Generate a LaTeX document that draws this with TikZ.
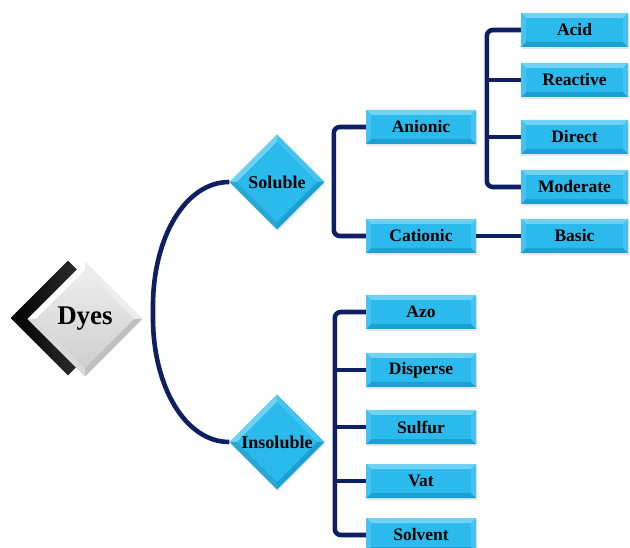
\documentclass[tikz,border=0pt]{standalone}
\usepackage{fontspec}
\setmainfont{Liberation Serif}
\usetikzlibrary{shapes.geometric,shadows}
\definecolor{cybase}{HTML}{2BBAEC}
\definecolor{cylight}{HTML}{6FD2F5}
\definecolor{cymid}{HTML}{45C3F0}
\definecolor{cydark}{HTML}{1C9FD2}
\definecolor{navy}{HTML}{0B1F62}
\tikzset{
  br/.style={draw=navy, line width=4.6pt, rounded corners=6pt},
  bevelbox/.style={rectangle, fill=cybase, minimum height=34pt, inner sep=0pt,
    font=\bfseries\fontsize{17.5}{20}\selectfont,
    drop shadow={opacity=0.2, shadow xshift=1pt, shadow yshift=-2pt},
    path picture={
      \fill[cylight] (path picture bounding box.north west) -- (path picture bounding box.north east)
        -- ([xshift=-5pt,yshift=-5pt]path picture bounding box.north east)
        -- ([xshift=5pt,yshift=-5pt]path picture bounding box.north west) -- cycle;
      \fill[cydark] (path picture bounding box.south west) -- (path picture bounding box.south east)
        -- ([xshift=-5pt,yshift=5pt]path picture bounding box.south east)
        -- ([xshift=5pt,yshift=5pt]path picture bounding box.south west) -- cycle;
      \fill[cymid] (path picture bounding box.north west) -- ([xshift=5pt,yshift=-5pt]path picture bounding box.north west)
        -- ([xshift=5pt,yshift=5pt]path picture bounding box.south west) -- (path picture bounding box.south west) -- cycle;
      \fill[cymid] (path picture bounding box.north east) -- ([xshift=-5pt,yshift=-5pt]path picture bounding box.north east)
        -- ([xshift=-5pt,yshift=5pt]path picture bounding box.south east) -- (path picture bounding box.south east) -- cycle;
    }},
  rbox/.style={bevelbox, minimum width=107pt},
  mbox/.style={bevelbox, minimum width=110pt},
  dia/.style={diamond, aspect=1, inner sep=0pt, minimum width=95pt, minimum height=95pt,
    fill=cybase, font=\bfseries\fontsize{18}{20}\selectfont,
    drop shadow={opacity=0.2, shadow xshift=1pt, shadow yshift=-2pt},
    path picture={
      \fill[cylight] (path picture bounding box.west) -- (path picture bounding box.north)
        -- ([yshift=-7pt]path picture bounding box.north) -- ([xshift=7pt]path picture bounding box.west) -- cycle;
      \fill[cymid] (path picture bounding box.north) -- (path picture bounding box.east)
        -- ([xshift=-7pt]path picture bounding box.east) -- ([yshift=-7pt]path picture bounding box.north) -- cycle;
      \fill[cydark] (path picture bounding box.east) -- (path picture bounding box.south)
        -- ([yshift=7pt]path picture bounding box.south) -- ([xshift=-7pt]path picture bounding box.east) -- cycle;
      \fill[cybase!90!black] (path picture bounding box.south) -- (path picture bounding box.west)
        -- ([xshift=7pt]path picture bounding box.west) -- ([yshift=7pt]path picture bounding box.south) -- cycle;
    }},
  graydia/.style={diamond, aspect=1, inner sep=0pt, minimum width=115pt, minimum height=115pt,
    top color=gray!12, bottom color=gray!40, font=\bfseries\fontsize{27}{30}\selectfont,
    path picture={
      \fill[white] (path picture bounding box.west) -- (path picture bounding box.north)
        -- ([yshift=-8pt]path picture bounding box.north) -- ([xshift=8pt]path picture bounding box.west) -- cycle;
      \fill[gray!15] (path picture bounding box.north) -- (path picture bounding box.east)
        -- ([xshift=-8pt]path picture bounding box.east) -- ([yshift=-8pt]path picture bounding box.north) -- cycle;
      \fill[gray!50] (path picture bounding box.east) -- (path picture bounding box.south)
        -- ([yshift=8pt]path picture bounding box.south) -- ([xshift=-8pt]path picture bounding box.east) -- cycle;
      \fill[gray!30] (path picture bounding box.south) -- (path picture bounding box.west)
        -- ([xshift=8pt]path picture bounding box.west) -- ([yshift=8pt]path picture bounding box.south) -- cycle;
    }},
  blackdia/.style={diamond, aspect=1, inner sep=0pt, minimum width=115pt, minimum height=115pt,
    left color=black, right color=black!70}
}
\begin{document}
\begin{tikzpicture}[x=1pt,y=-1pt]
\fill[white] (0,0) rectangle (630,548);
\useasboundingbox (0,0) rectangle (630,548);
\begin{scope}
\clip (0,0) rectangle (630,548);
% Dyes
\node[blackdia] (dyesback) at (68,318) {};
\node[graydia] (dyes) at (85,319) {Dyes};
% category diamonds
\node[dia] (sol) at (277,182) {Soluble};
\node[dia] (insol) at (277,442) {Insoluble};
% middle column
\node[mbox] (an) at (421,127) {Anionic};
\node[mbox] (cat) at (421,236) {Cationic};
\node[mbox] (azo) at (421,312) {Azo};
\node[mbox] (disp) at (421,370) {Disperse};
\node[mbox] (sulf) at (421,427) {Sulfur};
\node[mbox] (vat) at (421,481) {Vat};
\node[mbox] (solv) at (421,535) {Solvent};
% right column
\node[rbox] (acid) at (574.5,30) {Acid};
\node[rbox] (react) at (574.5,80) {Reactive};
\node[rbox] (direct) at (574.5,137) {Direct};
\node[rbox] (moder) at (574.5,187) {Moderate};
\node[rbox] (basic) at (574.5,236) {Basic};
% connectors
\coordinate (arcl) at (153,312);
\draw[br] (sol.west) .. controls (185,182) and (153,238) .. (arcl)
  .. controls (153,386) and (185,442) .. (insol.west);
\draw[br] (an.west) -| ([xshift=-32pt]cat.west) -- (cat.west);
\draw[br] (acid.west) -| ([xshift=-34pt]moder.west) -- (moder.west);
\draw[br] (react.west) -- ([xshift=-34pt]react.west);
\draw[br] (direct.west) -- ([xshift=-34pt]direct.west);
\draw[br] (cat.east) -- (basic.west);
\draw[br] (azo.west) -| ([xshift=-31pt]solv.west) -- (solv.west);
\draw[br] (disp.west) -- ([xshift=-31pt]disp.west);
\draw[br] (sulf.west) -- ([xshift=-31pt]sulf.west);
\draw[br] (vat.west) -- ([xshift=-31pt]vat.west);
\end{scope}
\end{tikzpicture}
\end{document}
